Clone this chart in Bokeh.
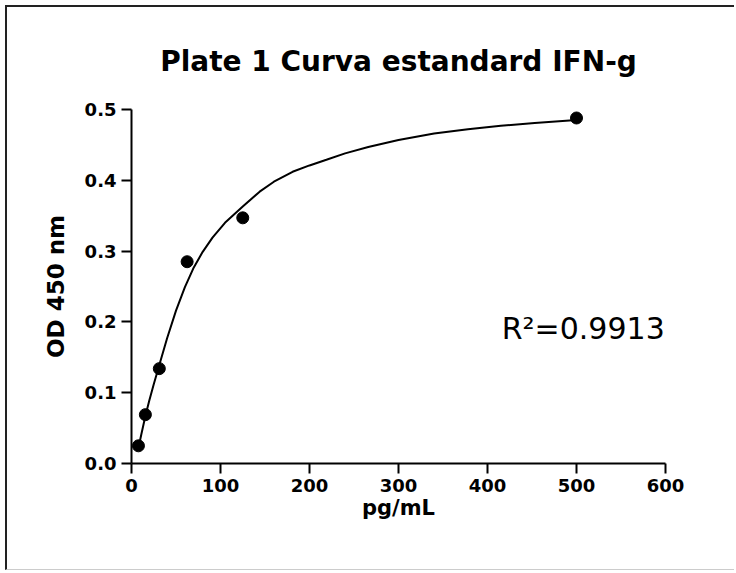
from bokeh.plotting import figure
from bokeh.models import Label, Range1d, FixedTicker, NumeralTickFormatter, ColumnDataSource
from bokeh.embed import file_html
from bokeh.resources import INLINE

# ---- data ----
conc = [7.8, 15.6, 31.25, 62.5, 125, 500]
od = [0.025, 0.069, 0.134, 0.285, 0.347, 0.488]

fit_x = [7.8, 11, 15.6, 20, 25, 31.25, 40, 50, 60, 70, 80, 91, 105, 125, 144, 160, 181, 200,
         219, 240, 266, 300, 340, 378, 415, 453, 500]
fit_y = [0.022, 0.041, 0.067, 0.089, 0.112, 0.139, 0.177, 0.216, 0.249, 0.277, 0.299, 0.319,
         0.340, 0.363, 0.384, 0.398, 0.412, 0.421, 0.429, 0.438, 0.447, 0.457, 0.466, 0.472,
         0.477, 0.481, 0.485]

x_ticks = [0, 100, 200, 300, 400, 500, 600]
y_ticks = [0.0, 0.1, 0.2, 0.3, 0.4, 0.5]

title_text = "Plate 1 Curva estandard IFN-g"
x_label = "pg/mL"
y_label = "OD 450 nm"
r2_text = "R\u00b2=0.9913"

p = figure(width=729, height=565, x_range=Range1d(0, 600), y_range=Range1d(0, 0.5),
           output_backend="svg", toolbar_location=None,
           min_border_left=124, min_border_right=71, min_border_top=102, min_border_bottom=109,
           styles={"margin-left": "5px", "margin-top": "5px",
                   "border-left": "2px solid #222", "border-top": "2px solid #222",
                   "border-bottom": "1px solid #ccc"})
p.outline_line_color = None
p.grid.visible = False
p.background_fill_color = "white"
p.border_fill_color = "white"

p.title.text = title_text
p.title.align = "center"
p.title.text_font = "DejaVu Sans"
p.title.text_font_style = "bold"
p.title.text_font_size = "28px"
p.title.text_color = "black"
p.title.standoff = 64

for ax in (p.xaxis[0], p.yaxis[0]):
    ax.axis_line_width = 2
    ax.axis_line_color = "black"
    ax.major_tick_line_width = 2
    ax.major_tick_line_color = "black"
    ax.major_tick_out = 10
    ax.major_tick_in = 0
    ax.minor_tick_line_color = None
    ax.major_label_text_font = "DejaVu Sans"
    ax.major_label_text_font_style = "bold"
    ax.major_label_text_font_size = "18px"
    ax.major_label_text_color = "black"
    ax.axis_label_text_font = "DejaVu Sans"
    ax.axis_label_text_font_style = "bold"
    ax.axis_label_text_color = "black"
    ax.major_label_standoff = 5

p.xaxis.ticker = FixedTicker(ticks=x_ticks)
p.yaxis.ticker = FixedTicker(ticks=y_ticks)
p.yaxis.formatter = NumeralTickFormatter(format="0.0")
p.xaxis.axis_label = x_label
p.yaxis.axis_label = y_label
p.xaxis.axis_label_text_font_size = "21px"
p.yaxis.axis_label_text_font_size = "23px"
p.xaxis.axis_label_standoff = 1
p.yaxis.axis_label_standoff = 13

fit_src = ColumnDataSource(dict(x=fit_x, y=fit_y))
pts_src = ColumnDataSource(dict(x=conc, y=od))
p.line("x", "y", source=fit_src, line_color="black", line_width=2)
p.scatter("x", "y", source=pts_src, size=12, marker="circle", fill_color="black", line_color="black")

p.add_layout(Label(x=416, y=0.19, text=r2_text, text_align="left", text_baseline="middle",
                   text_font="DejaVu Sans", text_font_size="30px", text_color="black"))

open("out.html", "w").write(file_html(p, INLINE))
